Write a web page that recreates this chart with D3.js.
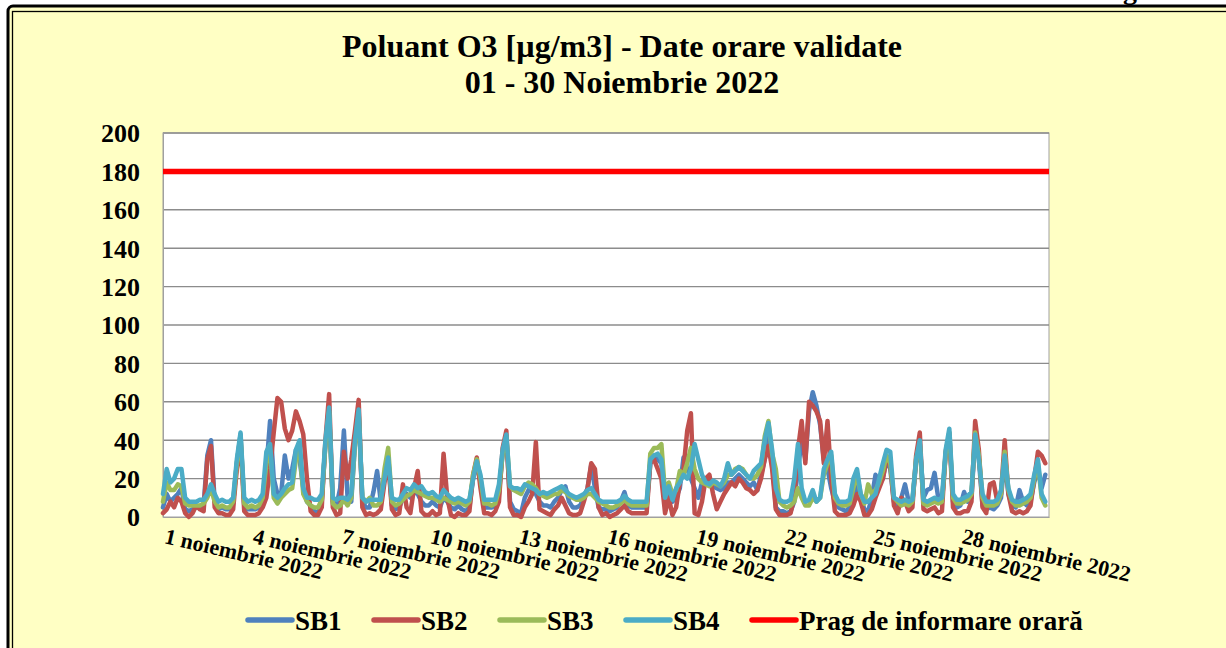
<!DOCTYPE html>
<html>
<head>
<meta charset="utf-8">
<script src="https://cdn.jsdelivr.net/npm/d3@7"></script>
<style>
  html, body { margin: 0; padding: 0; background: #ffffff; }
  svg { display: block; }
  text { font-family: "Liberation Serif", "Times New Roman", serif; font-weight: bold; fill: #000; }
</style>
</head>
<body>
<svg id="chart" width="1226" height="648"></svg>
<script>
// ---- DATA (3-hourly readings, 8 per day: 00,03,06,09,12,15,18,21) ----
const titleLines = ["Poluant O3 [µg/m3] - Date orare validate", "01 - 30 Noiembrie 2022"];
const seriesNames = ["SB1", "SB2", "SB3", "SB4"];
const thresholdName = "Prag de informare orară";
const thresholdValue = 180;
const yTicks = [0, 20, 40, 60, 80, 100, 120, 140, 160, 180, 200];
const xTickDays = [1, 4, 7, 10, 13, 16, 19, 22, 25, 28];
const xTickLabels = ["1 noiembrie 2022", "4 noiembrie 2022", "7 noiembrie 2022", "10 noiembrie 2022",
  "13 noiembrie 2022", "16 noiembrie 2022", "19 noiembrie 2022", "22 noiembrie 2022",
  "25 noiembrie 2022", "28 noiembrie 2022"];
const hoursPerStep = 3;

const SB1 = [
  5,12,8,10,12,15,4,3,
  4,5,5,6,32,40,8,4,
  5,4,4,7,28,43,6,4,
  4,4,5,8,25,50,20,12,
  12,32,20,25,35,30,15,8,
  6,3,2,8,38,54,8,6,
  15,45,10,8,38,54,8,5,
  5,13,24,8,20,30,6,4,
  5,10,12,10,13,12,8,6,
  6,8,6,5,10,8,5,4,
  6,4,3,5,20,28,18,5,
  5,5,6,12,33,42,8,4,
  3,2,10,14,13,12,8,6,
  6,5,8,10,14,16,8,5,
  5,6,10,15,27,15,5,4,
  4,3,4,5,8,13,6,5,
  5,5,5,5,28,32,30,28,
  8,12,8,10,15,31,25,20,
  15,10,18,20,18,16,15,14,
  15,18,18,20,22,20,18,16,
  18,14,22,30,42,30,5,3,
  3,2,3,8,25,40,30,55,
  65,58,48,30,25,15,8,5,
  4,3,5,8,20,10,4,3,
  10,22,18,20,30,25,8,5,
  10,17,8,8,28,38,10,14,
  15,23,10,8,32,44,8,5,
  6,13,8,10,42,30,6,4,
  5,4,6,10,30,12,6,5,
  14,8,6,8,18,25,15,22
];
const SB2 = [
  2,4,8,5,10,8,2,0,
  2,6,4,3,30,37,5,2,
  2,1,1,4,25,40,3,1,
  1,1,2,5,10,25,44,62,
  60,46,40,45,55,50,43,20,
  3,1,1,5,40,64,5,1,
  2,34,20,30,45,61,5,1,
  2,1,2,4,18,29,4,1,
  2,17,5,2,15,24,3,1,
  1,3,1,2,33,10,1,0,
  2,1,1,3,22,31,15,2,
  2,1,3,8,36,45,5,1,
  1,0,5,8,12,39,4,3,
  2,1,4,6,10,6,2,1,
  1,2,8,15,28,25,5,1,
  2,0,1,2,4,6,3,2,
  2,2,2,2,28,30,25,20,
  2,10,1,5,18,25,45,54,
  2,1,8,20,22,12,4,8,
  12,15,18,16,20,18,15,14,
  12,14,20,30,37,25,4,1,
  1,1,2,10,35,50,28,60,
  58,55,50,28,50,20,3,1,
  1,1,2,6,12,8,1,1,
  4,10,15,20,30,28,6,2,
  10,8,3,5,32,44,4,3,
  4,5,2,3,34,43,5,2,
  2,3,3,8,50,35,5,2,
  17,18,8,12,40,12,3,2,
  3,2,3,6,20,34,32,28
];
const SB3 = [
  8,18,14,14,17,16,7,6,
  6,6,6,7,10,15,8,5,
  6,5,5,8,28,42,7,5,
  6,5,6,10,28,35,10,7,
  10,12,14,15,30,35,12,8,
  6,5,5,9,38,55,7,5,
  6,9,6,10,38,54,10,8,
  10,6,6,8,25,36,8,6,
  7,9,11,12,14,13,12,11,
  10,10,9,8,10,9,8,7,
  8,7,6,8,22,30,20,7,
  7,6,7,14,33,42,16,14,
  13,12,16,18,17,15,12,11,
  10,11,12,12,14,13,11,10,
  9,9,10,12,12,10,8,7,
  6,5,5,6,7,9,7,6,
  6,6,6,6,33,36,36,38,
  12,18,12,14,24,22,28,36,
  25,20,18,17,16,18,17,16,
  18,22,22,25,26,25,22,20,
  20,22,26,42,50,33,25,8,
  6,5,6,8,15,10,6,6,
  10,8,10,22,28,32,10,7,
  6,6,7,15,22,12,7,17,
  12,14,18,24,32,28,10,8,
  6,7,6,8,30,38,7,6,
  7,8,7,8,33,44,10,7,
  7,8,9,12,44,32,10,6,
  6,6,7,12,34,14,8,6,
  6,7,8,10,20,28,10,6
];
const SB4 = [
  12,25,18,20,25,25,10,8,
  8,8,9,9,12,17,12,8,
  9,8,8,10,30,44,10,8,
  9,8,9,12,34,38,12,10,
  12,15,17,18,35,40,15,10,
  10,9,9,12,40,57,10,9,
  10,10,9,12,40,56,10,8,
  9,9,9,9,20,31,10,9,
  9,12,15,14,17,15,16,13,
  12,13,11,10,14,12,10,9,
  10,9,8,9,20,29,22,9,
  9,9,9,17,35,43,16,15,
  15,14,17,16,15,14,12,13,
  12,13,14,15,16,14,12,11,
  10,11,12,14,15,12,9,8,
  8,8,8,8,9,11,9,8,
  8,8,8,8,30,32,33,30,
  10,16,9,15,18,22,20,25,
  38,30,22,18,17,19,18,16,
  20,28,22,24,26,24,22,20,
  24,26,28,40,49,35,15,9,
  8,8,9,20,38,15,8,9,
  14,8,10,25,30,34,12,8,
  8,8,9,20,25,12,8,8,
  10,12,20,28,35,34,10,9,
  8,9,8,9,30,40,9,8,
  9,10,9,10,35,46,12,9,
  9,10,11,13,43,30,12,8,
  8,8,9,14,32,15,9,8,
  8,9,10,12,22,30,12,8
];
const seriesValues = [SB1, SB2, SB3, SB4];
const seriesColors = ["#4F81BD", "#C0504D", "#9BBB59", "#4BACC6"];
const thresholdColor = "#FF0000";

// ---- LAYOUT ----
const W = 1226, H = 648;
const plot = { left: 163, right: 1049, top: 133, bottom: 517 };
const svg = d3.select("#chart");

// page text fragment above the chart (only its lower part is visible, as in the reference)
svg.append("text").attr("x", 1123).attr("y", -1).style("font-size", "28px").text("g");

// frame
svg.append("rect").attr("x", 8).attr("y", 6).attr("width", W + 20).attr("height", H + 20)
  .attr("rx", 5).attr("fill", "#FFFFC4").attr("stroke", "#000").attr("stroke-width", 3);
svg.append("rect").attr("x", 12.5).attr("y", 11.5).attr("width", W + 20).attr("height", H + 20)
  .attr("fill", "none").attr("stroke", "#000").attr("stroke-width", 1.3);

// scales
const t0 = new Date(2022, 10, 1, 0);
const t1 = new Date(2022, 11, 1, 0);
const x = d3.scaleTime().domain([t0, t1]).range([plot.left, plot.right]);
const y = d3.scaleLinear().domain([0, 200]).range([plot.bottom, plot.top]);

// plot area
svg.append("rect").attr("x", plot.left).attr("y", plot.top)
  .attr("width", plot.right - plot.left).attr("height", plot.bottom - plot.top)
  .attr("fill", "#fff").attr("stroke", "#A0A0A0").attr("stroke-width", 1);

// gridlines
svg.append("g").selectAll("line").data(yTicks.slice(1)).join("line")
  .attr("x1", plot.left).attr("x2", plot.right)
  .attr("y1", d => y(d)).attr("y2", d => y(d))
  .attr("stroke", "#8C8C8C").attr("stroke-width", 1.4);

// y axis
const yAxis = svg.append("g").attr("transform", `translate(${plot.left},0)`)
  .call(d3.axisLeft(y).tickValues(yTicks).tickSize(0).tickPadding(23));
yAxis.select(".domain").attr("stroke", "#A0A0A0");
yAxis.selectAll("text").style("font-size", "26px")
  .style("font-family", '"Liberation Serif", "Times New Roman", serif').style("font-weight", "bold")
  .attr("dy", "0.34em");

// x axis
const xTickDates = xTickDays.map(d => new Date(2022, 10, d, 0));
const xAxis = svg.append("g").attr("transform", `translate(0,${plot.bottom})`)
  .call(d3.axisBottom(x).tickValues(xTickDates).tickSize(0)
    .tickFormat((d, i) => xTickLabels[i]));
xAxis.select(".domain").attr("stroke", "#A0A0A0").attr("stroke-width", 1.2);
xAxis.selectAll("text")
  .style("font-size", "22px")
  .style("font-family", '"Liberation Serif", "Times New Roman", serif').style("font-weight", "bold")
  .attr("text-anchor", "start").attr("y", 0).attr("dy", 0)
  .attr("transform", "translate(0,26) rotate(13)");

// series
const line = d3.line()
  .x((d, i) => x(new Date(t0.getTime() + i * hoursPerStep * 3600 * 1000)))
  .y(d => y(d));
seriesValues.forEach((vals, k) => {
  svg.append("path").datum(vals)
    .attr("fill", "none").attr("stroke", seriesColors[k]).attr("stroke-width", 4.5)
    .attr("stroke-linejoin", "round").attr("stroke-linecap", "round")
    .attr("d", line);
});

// threshold line
svg.append("line").attr("x1", plot.left).attr("x2", plot.right)
  .attr("y1", y(thresholdValue)).attr("y2", y(thresholdValue))
  .attr("stroke", thresholdColor).attr("stroke-width", 5.5);

// title
svg.append("g").selectAll("text").data(titleLines).join("text")
  .attr("x", 622).attr("y", (d, i) => 57 + i * 36)
  .attr("text-anchor", "middle").style("font-size", "32px").text(d => d);

// legend
const legendItems = seriesNames.map((n, i) => ({ name: n, color: seriesColors[i] }))
  .concat([{ name: thresholdName, color: thresholdColor }]);
const lg = svg.append("g").selectAll("g").data(legendItems).join("g")
  .attr("transform", (d, i) => `translate(${248 + i * 126},620)`);
lg.append("line").attr("x1", 0).attr("x2", 44).attr("y1", 0).attr("y2", 0)
  .attr("stroke", d => d.color).attr("stroke-width", 5.5).attr("stroke-linecap", "round");
lg.append("text").attr("x", 47).attr("y", 9.5).style("font-size", "27px").text(d => d.name);
</script>
</body>
</html>
